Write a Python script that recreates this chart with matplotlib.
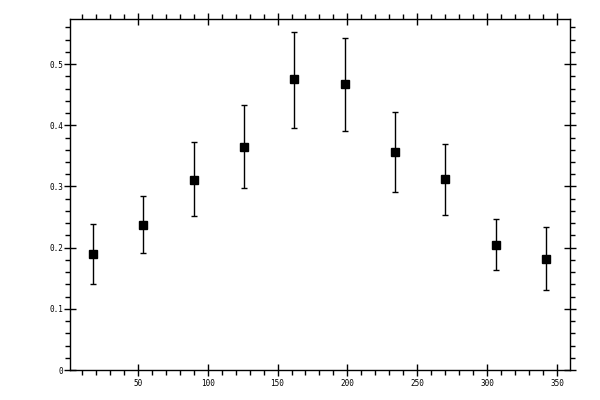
import matplotlib
matplotlib.use('Agg')
import matplotlib.pyplot as plt
from matplotlib.ticker import MultipleLocator, FuncFormatter

# values
angle = [18, 54, 90, 126, 162, 198, 234, 270, 306, 342]
value = [0.190, 0.2375, 0.311, 0.365, 0.475, 0.467, 0.357, 0.313, 0.205, 0.182]
err_low = [0.049, 0.047, 0.060, 0.067, 0.079, 0.077, 0.066, 0.059, 0.041, 0.051]
err_high = [0.048, 0.047, 0.062, 0.068, 0.077, 0.075, 0.064, 0.057, 0.042, 0.052]

x_range = (1.2, 359.5)
y_range = (0, 0.5735)

fig = plt.figure(figsize=(6, 4), dpi=100)
ax = fig.add_axes([0.116, 0.075, 0.8345, 0.877])

ax.errorbar(angle, value, yerr=[err_low, err_high], fmt='s', color='black',
            ms=5.2, ecolor='black', elinewidth=1.0, capsize=2.2, capthick=1.0)

ax.set_xlim(*x_range)
ax.set_ylim(*y_range)

ax.xaxis.set_major_locator(MultipleLocator(50))
ax.xaxis.set_minor_locator(MultipleLocator(10))
ax.yaxis.set_major_locator(MultipleLocator(0.1))
ax.yaxis.set_minor_locator(MultipleLocator(0.02))
ax.yaxis.set_major_formatter(FuncFormatter(lambda v, p: '%g' % round(v, 3)))
ax.xaxis.set_major_formatter(FuncFormatter(lambda v, p: '%g' % v))

for s in ax.spines.values():
    s.set_linewidth(1.0)

ax.tick_params(which='major', direction='inout', length=8, width=1.0,
               top=True, right=True, labelsize=5.5)
ax.tick_params(which='minor', direction='out', length=3.5, width=1.0,
               top=True, right=True)
ax.tick_params(axis='y', which='major', pad=0.5)
ax.tick_params(axis='x', which='major', pad=2.5)

for lab in ax.get_xticklabels() + ax.get_yticklabels():
    lab.set_family('DejaVu Sans Mono')

fig.savefig('out.png', dpi=100)
